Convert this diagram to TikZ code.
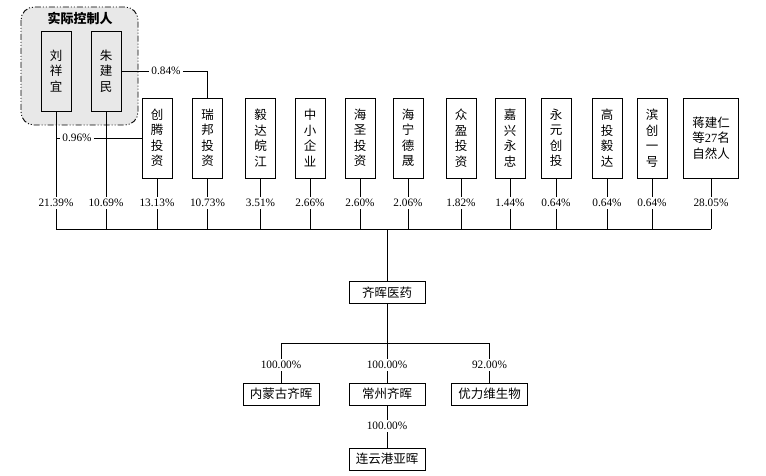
\documentclass[tikz,border=0pt]{standalone}
\usepackage{fontspec}
\setmainfont{Liberation Serif}
\newfontfamily\cjk{Noto Sans CJK SC}
\usetikzlibrary{positioning,calc}

\begin{document}
\begin{tikzpicture}
  [
  x=1pt, y=-1pt, line width=0.8pt, draw=black,
  holdnode/.style={rectangle, inner sep=0pt, minimum width=30pt, minimum height=80pt,
    draw=black, fill=white, align=center, font=\cjk\fontsize{12.5}{15.5}\selectfont},
  compnode/.style={rectangle, inner sep=0pt, minimum width=76pt, minimum height=22pt,
    draw=black, fill=white, font=\cjk\fontsize{12.5}{15}\selectfont},
  pctnode/.style={inner sep=2pt, font=\fontsize{11.3}{12}\selectfont},
  ]
  \useasboundingbox (0,0) rectangle (766,476);

  % actual controllers
  \draw[fill=black!9, line width=0.9pt, rounded corners=13pt,
    dash pattern=on 6pt off 2pt on 1pt off 2pt on 1pt off 2pt] (21,7) rectangle (138,125);
  \node[font=\cjk\bfseries\fontsize{13}{15}\selectfont] (title) at (80,18) {实际控制人};
  \node[holdnode, fill=black!9] (liu) at (56,71) {刘\\祥\\宜};
  \node[holdnode, fill=black!9] (zhu) at (106,71) {朱\\建\\民};

  \coordinate (bus) at (387,229);

  \foreach \n/\x/\t/\p in {chuangteng/157/{创\\腾\\投\\资}/13.13,
      ruibang/207.5/{瑞\\邦\\投\\资}/10.73, yida/260.5/{毅\\达\\皖\\江}/3.51,
      zhongxiao/310/{中\\小\\企\\业}/2.66, haisheng/360/{海\\圣\\投\\资}/2.60,
      haining/408/{海\\宁\\德\\晟}/2.06, zhongying/461/{众\\盈\\投\\资}/1.82,
      jiaxing/510/{嘉\\兴\\永\\忠}/1.44, yongyuan/556/{永\\元\\创\\投}/0.64,
      gaotou/607/{高\\投\\毅\\达}/0.64, binchuang/652/{滨\\创\\一\\号}/0.64} {
    \node[holdnode] (\n) at (\x,138) {\t};
    \node[pctnode] (p\n) at (\x,203) {\p\%};
    \draw (\n) -- (p\n);
    \draw (p\n) -- (p\n |- bus);
  }

  \node[holdnode, minimum width=55pt] (jiang) at (711,138) {蒋建仁\\等{\rmfamily 27}名\\自然人};
  \node[pctnode] (pjiang) at (711,203) {28.05\%};
  \draw (jiang) -- (pjiang);
  \draw (pjiang) -- (pjiang |- bus);

  \foreach \n/\p in {liu/21.39, zhu/10.69} {
    \node[pctnode] (p\n) at (\n |- pchuangteng) {\p\%};
    \draw (\n) -- (p\n);
    \draw (p\n) -- (p\n |- bus);
  }

  % cross holdings
  \node[pctnode] (p084) at (166,71) {0.84\%};
  \draw (zhu) -- (p084);
  \draw (p084) -| (ruibang);
  \coordinate (liu096) at (liu |- chuangteng);
  \node[pctnode] (p096) at (77,138) {0.96\%};
  \draw (liu096) -- (p096);
  \draw (p096) -- (chuangteng);

  \draw (pliu |- bus) -- (pjiang |- bus);

  % company and subsidiaries
  \node[compnode] (qihui) at (387,292.5) {齐晖医药};
  \draw (bus) -- (qihui);
  \coordinate (branch) at (387,343);

  \node[compnode] (neimeng) at (281,394) {内蒙古齐晖};
  \node[compnode] (changzhou) at (387,394) {常州齐晖};
  \node[compnode] (youli) at (489.5,394) {优力维生物};
  \node[compnode] (lianyun) at (387,459) {连云港亚晖};

  \draw (qihui) -- (branch);
  \draw (neimeng |- branch) -- (youli |- branch);
  \foreach \n/\p in {neimeng/100.00, changzhou/100.00, youli/92.00} {
    \node[pctnode] (p\n) at (\n |- 0,365) {\p\%};
    \draw (\n |- branch) -- (p\n);
    \draw (p\n) -- (\n);
  }
  \node[pctnode] (plianyun) at (387,426) {100.00\%};
  \draw (changzhou) -- (plianyun);
  \draw (plianyun) -- (lianyun);
\end{tikzpicture}
\end{document}
